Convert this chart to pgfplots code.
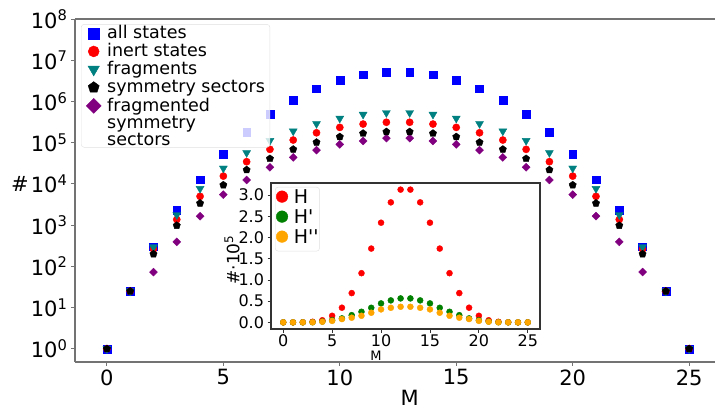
\documentclass[border=0pt]{standalone}
\usepackage{fontspec}
\setmainfont{DejaVu Sans}
\newfontfamily\dvs{DejaVu Sans}
\usepackage{pgfplots}
\usepackage{pgfplotstable}
\pgfplotsset{compat=1.18}
\definecolor{mblue}{RGB}{0,0,255}
\definecolor{mred}{RGB}{255,0,0}
\definecolor{mteal}{RGB}{0,128,128}
\definecolor{mpurple}{RGB}{128,0,128}
\definecolor{mgreen}{RGB}{0,128,0}
\definecolor{morange}{RGB}{255,165,0}

\pgfplotstableread{
M all inert frag sym fsym
0 1 1 1 1 1
1 25 25 25 25 25
2 300 263 295 199 73
3 2300 1370 1780 980 395
4 12650 5000 7700 3400 1650
5 53130 15500 24000 9400 5500
6 177100 34600 57000 21900 12500
7 480700 69000 112000 41000 25300
8 1081575 116000 191000 69000 44000
9 2042975 174000 288000 102000 66000
10 3268760 235000 389000 139000 91000
11 4457400 283000 484000 168000 110000
12 5200300 313000 531000 184000 129000
13 5200300 313000 531000 184000 129000
14 4457400 283000 484000 168000 110000
15 3268760 235000 389000 139000 91000
16 2042975 174000 288000 102000 66000
17 1081575 116000 191000 69000 44000
18 480700 69000 112000 41000 25300
19 177100 34600 57000 21900 12500
20 53130 15500 24000 9400 5500
21 12650 5000 7700 3400 1650
22 2300 1370 1780 980 395
23 300 263 295 199 73
24 25 25 25 25 25
25 1 1 1 1 1
}\maindata

\pgfplotstableread{
M H Hp Hpp
0 0.00001 0 0
1 0.00025 0.00005 0.00005
2 0.0026 0.0005 0.0004
3 0.0137 0.003 0.002
4 0.05 0.02 0.015
5 0.155 0.05 0.035
6 0.346 0.094 0.078
7 0.69 0.17 0.11
8 1.16 0.25 0.156
9 1.74 0.344 0.227
10 2.35 0.447 0.306
11 2.83 0.518 0.344
12 3.13 0.565 0.368
13 3.13 0.565 0.368
14 2.83 0.518 0.344
15 2.35 0.447 0.306
16 1.74 0.344 0.227
17 1.16 0.25 0.156
18 0.69 0.17 0.11
19 0.346 0.094 0.078
20 0.155 0.05 0.035
21 0.05 0.02 0.015
22 0.0137 0.003 0.002
23 0.0026 0.0005 0.0004
24 0.00025 0.00005 0.00005
25 0.00001 0 0
}\insetdata

\begin{document}
\begin{tikzpicture}
\begin{axis}[
  at={(0pt,0pt)}, anchor=south west,
  scale only axis, width=640pt, height=343pt,
  xmin=-1.37, xmax=26.11,
  ymode=log, ymin=0.48, ymax=1e8,
  separate axis lines, axis x line=box, axis y line=left,
  axis line style={-, draw=black!55, line width=1.6pt},
  xtick={0,5,10,15,20,25},
  ytick={1,10,100,1000,10000,100000,1000000,10000000,100000000},
  yticklabels={10\textsuperscript{0},10\textsuperscript{1},10\textsuperscript{2},10\textsuperscript{3},10\textsuperscript{4},10\textsuperscript{5},10\textsuperscript{6},10\textsuperscript{7},10\textsuperscript{8}},
  yminorticks=false, xminorticks=false,
  tick align=outside, major tick length=4pt,
  tick style={draw=black!55, line width=1pt},
  xtick pos=left, ytick pos=left,
  tick label style={font=\fontsize{21}{21}\selectfont},
  /pgf/number format/assume math mode=true,
  xlabel={M}, xlabel style={font=\fontsize{21}{21}\selectfont, at={(axis description cs:0.523,-0.105)}, anchor=center},
  ylabel={\#}, ylabel style={font=\fontsize{21}{21}\selectfont, rotate=-90, at={(axis description cs:-0.086,0.52)}, anchor=center},
  legend style={at={(axis description cs:0.0094,0.985)}, anchor=north west,
    draw=black!12, rounded corners=3pt, fill=white, fill opacity=0.8, text opacity=1,
    font=\fontsize{17.5}{18}\selectfont,
    inner xsep=5pt, inner ysep=2pt, row sep=0pt, column sep=6pt,
    nodes={inner sep=0pt, anchor=base west, text height=12.6pt, text depth=5.4pt}},
  legend image post style={yshift=5.5pt, fill opacity=1, draw opacity=1},
]
\addplot[only marks, mark=square*, mark size=2.8pt, mark options={rotate=45, draw=mpurple, fill=mpurple}, forget plot] table[x=M, y=fsym] {\maindata};
\addplot[only marks, mark=square*, mark size=3.9pt, mark options={draw=mblue, fill=mblue}, forget plot] table[x=M, y=all] {\maindata};
\addplot[only marks, mark=*, mark size=3.6pt, mark options={draw=mred, fill=mred}, forget plot] table[x=M, y=inert] {\maindata};
\addplot[only marks, mark=triangle*, mark size=4.6pt, mark options={rotate=180, draw=mteal, fill=mteal}, forget plot] table[x=M, y=frag] {\maindata};
\addplot[only marks, mark=pentagon*, mark size=3.8pt, mark options={draw=black, fill=black}, forget plot] table[x=M, y=sym] {\maindata};

\addlegendimage{only marks, mark=square*, mark size=5.5pt, mark options={draw=mblue, fill=mblue}}
\addlegendentry{all states}
\addlegendimage{only marks, mark=*, mark size=5.5pt, mark options={draw=mred, fill=mred}}
\addlegendentry{inert states}
\addlegendimage{only marks, mark=triangle*, mark size=6.5pt, mark options={rotate=180, draw=mteal, fill=mteal}}
\addlegendentry{fragments}
\addlegendimage{only marks, mark=pentagon*, mark size=5.8pt, mark options={draw=black, fill=black}}
\addlegendentry{symmetry sectors}
\addlegendimage{only marks, mark=square*, mark size=5.3pt, mark options={rotate=45, draw=mpurple, fill=mpurple}}
\addlegendentry[text depth=34pt]{\renewcommand\arraystretch{0.85}\begin{tabular}[t]{@{}l@{}}fragmented\\symmetry\\sectors\end{tabular}}
\end{axis}

\begin{axis}[
  at={(196pt,33pt)}, anchor=south west,
  scale only axis, width=269pt, height=146pt,
  xmin=-1.25, xmax=26.25, ymin=-0.1565, ymax=3.2865,
  axis background/.style={fill=white},
  axis line style={draw=black!80, line width=1.2pt},
  tick align=outside, major tick length=3.5pt,
  tick style={draw=black!80, line width=0.9pt},
  xtick={0,5,10,15,20,25}, ytick={0,0.5,1,1.5,2,2.5,3},
  xtick pos=left, ytick pos=left,
  tick label style={font=\fontsize{16}{16}\selectfont},
  xticklabel style={yshift=1pt},
  yticklabel style={/pgf/number format/.cd, fixed, fixed zerofill, precision=1},
  /pgf/number format/assume math mode=true,
  xlabel={M}, xlabel style={font=\fontsize{13}{13}\selectfont, at={(axis description cs:0.39,-0.185)}, anchor=center},
  ylabel={\#·10\textsuperscript{5}}, ylabel style={font=\fontsize{17}{17}\selectfont, at={(axis description cs:-0.145,0.473)}, anchor=center},
  legend style={at={(axis description cs:0.015,0.973)}, anchor=north west,
    draw=black!12, rounded corners=3pt, fill=white,
    font=\fontsize{19}{20}\selectfont,
    inner xsep=1pt, inner ysep=2pt, row sep=0pt, column sep=6pt,
    nodes={inner sep=0pt, anchor=base west, text height=14pt, text depth=6pt}},
  legend image post style={yshift=6.5pt},
]
\addplot[only marks, mark=*, mark size=3pt, mark options={draw=mred, fill=mred}, forget plot] table[x=M, y=H] {\insetdata};
\addplot[only marks, mark=*, mark size=3pt, mark options={draw=mgreen, fill=mgreen}, forget plot] table[x=M, y=Hp] {\insetdata};
\addplot[only marks, mark=*, mark size=3pt, mark options={draw=morange, fill=morange}, forget plot] table[x=M, y=Hpp] {\insetdata};
\addlegendimage{only marks, mark=*, mark size=5.8pt, mark options={draw=mred, fill=mred}}
\addlegendentry{{\dvs H}}
\addlegendimage{only marks, mark=*, mark size=5.8pt, mark options={draw=mgreen, fill=mgreen}}
\addlegendentry{{\dvs H'}}
\addlegendimage{only marks, mark=*, mark size=5.8pt, mark options={draw=morange, fill=morange}}
\addlegendentry{{\dvs H''}}
\end{axis}
\pgfresetboundingbox
\useasboundingbox (-75pt,-48pt) rectangle (640pt,362pt);
\end{tikzpicture}
\end{document}
